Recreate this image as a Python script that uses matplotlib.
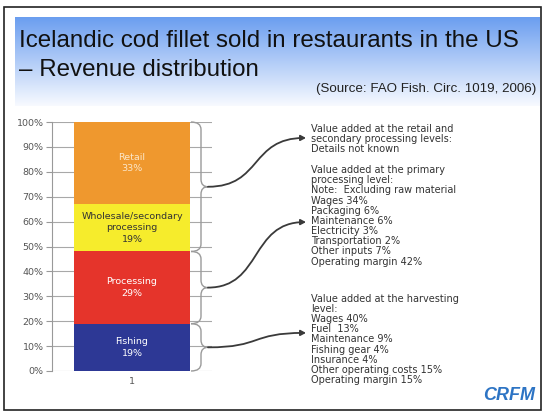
import numpy as np
import matplotlib
matplotlib.use("Agg")
import matplotlib.pyplot as plt
from matplotlib.path import Path
from matplotlib.patches import FancyArrowPatch, PathPatch, Rectangle
import matplotlib.transforms as mtransforms

# 数据
stages = ["Fishing", "Processing", "Wholesale/secondary\nprocessing", "Retail"]
shares = [19, 29, 19, 33]
colors = ["#2d3895", "#e5342b", "#f6ec2c", "#ef982e"]
text_colors = ["white", "white", "#333333", "#fbe6c8"]
category = ["1"]

notes = [
    "Value added at the retail and\nsecondary processing levels:\nDetails not known",
    "Value added at the primary\nprocessing level:\nNote:  Excluding raw material\nWages 34%\nPackaging 6%\n"
    "Maintenance 6%\nElectricity 3%\nTransportation 2%\nOther inputs 7%\nOperating margin 42%",
    "Value added at the harvesting\nlevel:\nWages 40%\nFuel  13%\nMaintenance 9%\nFishing gear 4%\n"
    "Insurance 4%\nOther operating costs 15%\nOperating margin 15%",
]

W, H = 544, 413
fig = plt.figure(figsize=(W / 100, H / 100), dpi=100)


def fx(px):
    return px / W


def fy(py):
    return 1 - py / H


# 标题背景渐变
bg = fig.add_axes([fx(15), fy(106), fx(540) - fx(15), fy(17) - fy(106)])
grad = np.linspace(0, 1, 100)[:, None]
top = np.array([0.42, 0.62, 0.94])
bot = np.array([0.97, 0.98, 1.0])
img = top[None, None, :] * (1 - grad[..., None]) + bot[None, None, :] * grad[..., None]
bg.imshow(np.repeat(img, 2, axis=1), aspect="auto", extent=[0, 1, 0, 1])
bg.axis("off")

# 幻灯片边框
fig.add_artist(Rectangle((fx(4), fy(410)), fx(541) - fx(4), fy(7) - fy(410),
                         fill=False, ec="#222222", lw=1.2, transform=fig.transFigure))

title_font = ["Liberation Sans", "DejaVu Sans"]
fig.text(fx(19), fy(41), "Icelandic cod fillet sold in restaurants in the US",
         fontsize=17.4, family=title_font, color="#111111", va="center")
fig.text(fx(19), fy(70), "– Revenue distribution",
         fontsize=17.4, family=title_font, color="#111111", va="center")
fig.text(fx(536), fy(89), "(Source: FAO Fish. Circ. 1019, 2006)",
         fontsize=9.6, family=title_font, color="#222222", ha="right", va="center")

# 主图
ax = fig.add_axes([fx(52), fy(371), fx(212) - fx(52), fy(122) - fy(371)])
bottoms = np.concatenate([[0], np.cumsum(shares)[:-1]])
for name, v, b, c, tc in zip(stages, shares, bottoms, colors, text_colors):
    ax.bar(category, v, bottom=b, width=0.72, color=c, zorder=3)
    ax.text(0, b + v / 2, f"{name}\n{v}%", ha="center", va="center",
            fontsize=6.8, color=tc, zorder=4, linespacing=1.35)

ax.set_xlim(-0.5, 0.5)
ax.set_ylim(0, 100)
ax.set_yticks(range(0, 101, 10))
ax.set_yticklabels([f"{v}%" for v in range(0, 101, 10)])
ax.yaxis.grid(True, color="#a8a8a8", lw=0.8)
ax.set_axisbelow(True)
ax.tick_params(axis="y", length=4, color="#999999", labelsize=6.8, labelcolor="#555555", pad=2)
ax.tick_params(axis="x", length=0, labelsize=6.8, labelcolor="#555555", pad=4)
for s in ["top", "right", "bottom"]:
    ax.spines[s].set_visible(False)
ax.spines["left"].set_color("#999999")

# x 用像素, y 用百分比
bt = mtransforms.blended_transform_factory(
    mtransforms.Affine2D().scale(1 / W, 1) + fig.transFigure, ax.transData)


def brace(y0, y1, xl=191, xm=201, xt=208, r=3):
    ym = (y0 + y1) / 2
    verts = [(xl, y1), (xm, y1), (xm, y1 - r),
             (xm, ym + r), (xm, ym), (xt, ym),
             (xm, ym), (xm, ym - r),
             (xm, y0 + r), (xm, y0), (xl, y0)]
    codes = [Path.MOVETO, Path.CURVE3, Path.CURVE3,
             Path.LINETO, Path.CURVE3, Path.CURVE3,
             Path.CURVE3, Path.CURVE3,
             Path.LINETO, Path.CURVE3, Path.CURVE3]
    fig.add_artist(PathPatch(Path(verts, codes), fill=False, ec="#9a9a9a", lw=1.0,
                             transform=bt))
    return ym


edges = np.cumsum([0] + shares)
groups = [(edges[2], edges[4]), (edges[1], edges[2]), (edges[0], edges[1])]
note_tops = [99.2, 82.7, 31.0]
arrow_ends = [93.6, 59.8, 15.3]

for (y0, y1), note, nt, ye in zip(groups, notes, note_tops, arrow_ends):
    ym = brace(y0, y1)
    p = Path([(208, ym), (262, ym), (250, ye), (306, ye)],
             [Path.MOVETO, Path.CURVE4, Path.CURVE4, Path.CURVE4])
    fig.add_artist(FancyArrowPatch(path=p, arrowstyle="-|>,head_length=3,head_width=1.6",
                                   color="#3a3a3a", lw=1.3, transform=bt))
    t = fig.text(0, 0, note, transform=bt, va="top", ha="left", fontsize=7,
                 color="#333333", linespacing=1.02)
    t.set_position((311, nt))

# 标志
fig.text(fx(535), fy(395), "CRFM", fontsize=13, fontweight="bold", style="italic",
         color="#2d74c4", ha="right", va="center", family=title_font)

fig.savefig("out.png", dpi=100)
